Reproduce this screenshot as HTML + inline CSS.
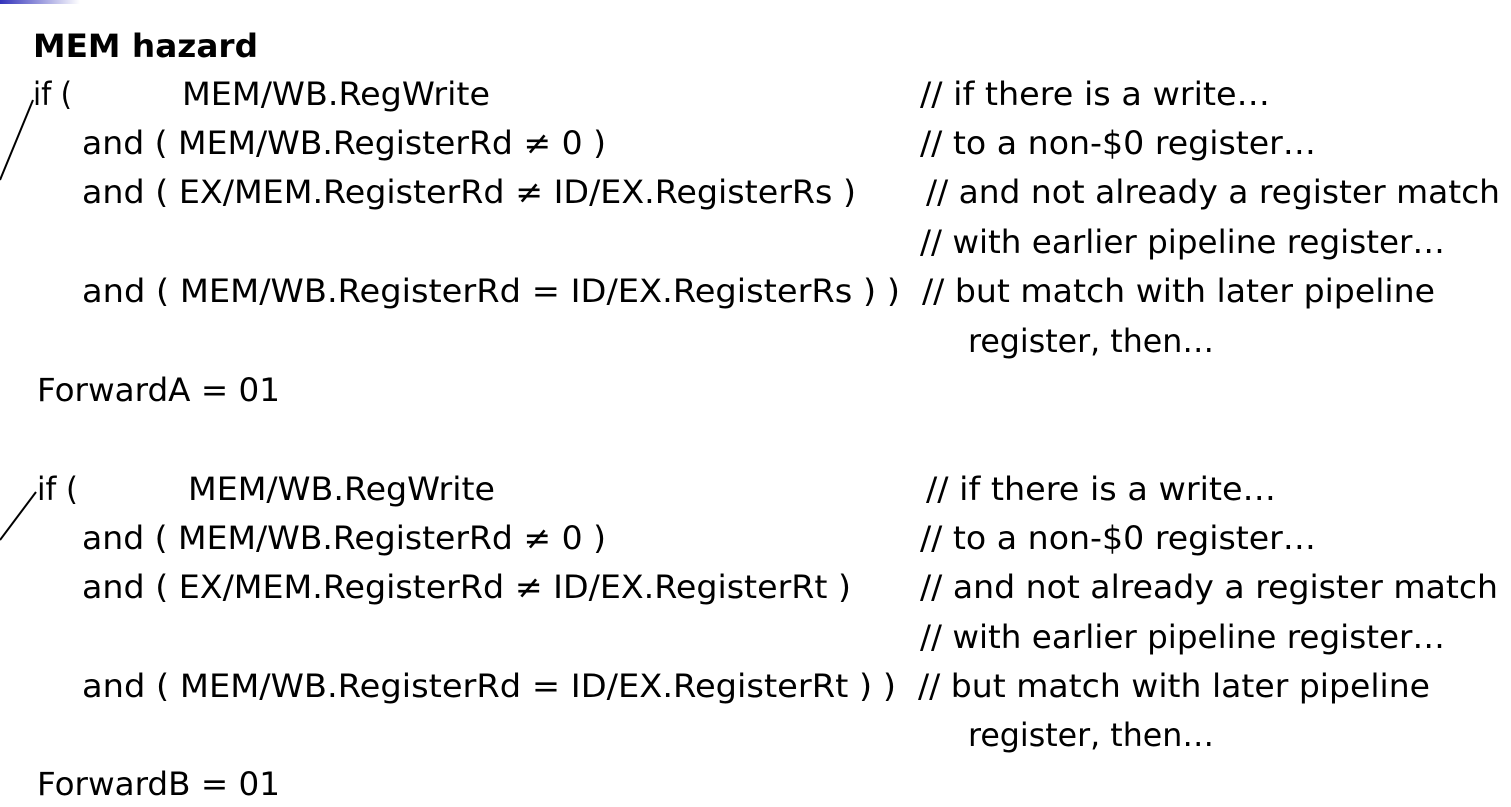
<!DOCTYPE html>
<html><head><meta charset="utf-8"><style>
html,body{margin:0;padding:0;background:#fff;}
svg{display:block;}
text{font-family:"DejaVu Sans","Liberation Sans",sans-serif;font-size:32px;fill:#000;}
</style></head><body>
<svg width="1511" height="807" viewBox="0 0 1511 807" xmlns="http://www.w3.org/2000/svg">
<defs><linearGradient id="g" x1="0" x2="1"><stop offset="0" stop-color="#3333bb"/><stop offset="1" stop-color="#fff"/></linearGradient></defs>
<rect x="0" y="0" width="80" height="4" fill="url(#g)"/>
<line x1="33" y1="100" x2="0" y2="180" stroke="#000" stroke-width="2"/>
<line x1="36" y1="492" x2="0" y2="540" stroke="#000" stroke-width="2"/>
<text x="33" y="57" font-weight="bold" textLength="225" lengthAdjust="spacingAndGlyphs">MEM hazard</text>

<text x="33" y="105" textLength="39" lengthAdjust="spacingAndGlyphs">if (</text>
<text x="182" y="105" textLength="308" lengthAdjust="spacingAndGlyphs">MEM/WB.RegWrite</text>
<text x="920" y="105" textLength="350" lengthAdjust="spacingAndGlyphs">// if there is a write…</text>
<text x="82" y="154" textLength="524" lengthAdjust="spacingAndGlyphs">and ( MEM/WB.RegisterRd ≠ 0 )</text>
<text x="920" y="154" textLength="396" lengthAdjust="spacingAndGlyphs">// to a non-$0 register…</text>
<text x="82" y="203" textLength="774" lengthAdjust="spacingAndGlyphs">and ( EX/MEM.RegisterRd ≠ ID/EX.RegisterRs )</text>
<text x="926" y="203" textLength="574" lengthAdjust="spacingAndGlyphs">// and not already a register match</text>
<text x="920" y="253" textLength="525" lengthAdjust="spacingAndGlyphs">// with earlier pipeline register…</text>
<text x="82" y="302" textLength="818" lengthAdjust="spacingAndGlyphs">and ( MEM/WB.RegisterRd = ID/EX.RegisterRs ) )</text>
<text x="922" y="302" textLength="513" lengthAdjust="spacingAndGlyphs">// but match with later pipeline</text>
<text x="968" y="352" textLength="246" lengthAdjust="spacingAndGlyphs">register, then…</text>
<text x="37" y="401" textLength="243" lengthAdjust="spacingAndGlyphs">ForwardA = 01</text>

<text x="37" y="500" textLength="41" lengthAdjust="spacingAndGlyphs">if (</text>
<text x="188" y="500" textLength="307" lengthAdjust="spacingAndGlyphs">MEM/WB.RegWrite</text>
<text x="926" y="500" textLength="350" lengthAdjust="spacingAndGlyphs">// if there is a write…</text>
<text x="82" y="549" textLength="524" lengthAdjust="spacingAndGlyphs">and ( MEM/WB.RegisterRd ≠ 0 )</text>
<text x="920" y="549" textLength="396" lengthAdjust="spacingAndGlyphs">// to a non-$0 register…</text>
<text x="82" y="598" textLength="769" lengthAdjust="spacingAndGlyphs">and ( EX/MEM.RegisterRd ≠ ID/EX.RegisterRt )</text>
<text x="920" y="598" textLength="578" lengthAdjust="spacingAndGlyphs">// and not already a register match</text>
<text x="920" y="648" textLength="525" lengthAdjust="spacingAndGlyphs">// with earlier pipeline register…</text>
<text x="82" y="697" textLength="814" lengthAdjust="spacingAndGlyphs">and ( MEM/WB.RegisterRd = ID/EX.RegisterRt ) )</text>
<text x="918" y="697" textLength="512" lengthAdjust="spacingAndGlyphs">// but match with later pipeline</text>
<text x="968" y="746" textLength="246" lengthAdjust="spacingAndGlyphs">register, then…</text>
<text x="37" y="795" textLength="243" lengthAdjust="spacingAndGlyphs">ForwardB = 01</text>
</svg>
</body></html>
